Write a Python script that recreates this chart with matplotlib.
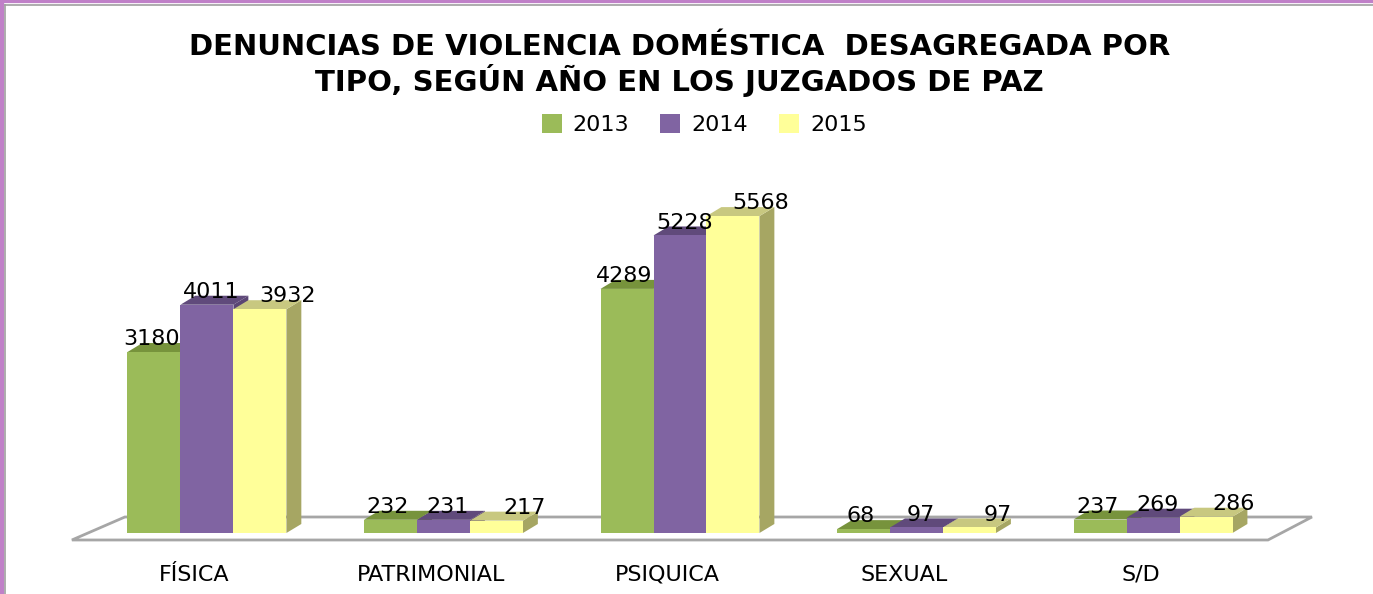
import matplotlib
matplotlib.use("Agg")
import matplotlib.pyplot as plt
from matplotlib.patches import Polygon, Patch
from matplotlib.lines import Line2D

# ── Data ──────────────────────────────────────────────────────────────────────

CATEGORIES = ["FÍSICA", "PATRIMONIAL", "PSIQUICA", "SEXUAL", "S/D"]
YEARS = ["2013", "2014", "2015"]
V2013 = [3180, 232, 4289, 68, 237]
V2014 = [4011, 231, 5228, 97, 269]
V2015 = [3932, 217, 5568, 97, 286]

TITLE = "DENUNCIAS DE VIOLENCIA DOMÉSTICA  DESAGREGADA POR\nTIPO, SEGÚN AÑO EN LOS JUZGADOS DE PAZ"

# ── Style ─────────────────────────────────────────────────────────────────────

FRONT = ["#9BBB59", "#8064A2", "#FFFF99"]
TOP   = ["#77933C", "#604A7B", "#C8C880"]
SIDE  = ["#6E8A36", "#5A4574", "#A6A663"]
LABEL_DX = [-2, 3, 20]          # label shift per series, points

W, H, DPI = 13.73, 5.94, 100
BAR_W = 0.224
DX, DY = 0.063, 158             # pseudo-3D depth in data units

fig = plt.figure(figsize=(W, H), dpi=DPI)
ax = fig.add_axes([0, 0, 1, 1])
ax.set_xlim(-0.875, 4.93)
ax.set_ylim(-1072, 9365)
ax.axis("off")

# floor
floor = Polygon([(-0.571, -123), (-0.347, 281), (4.672, 281), (4.486, -123)],
                closed=True, facecolor="white", edgecolor="#A6A6A6", lw=2, zorder=1)
ax.add_patch(floor)

series = [V2013, V2014, V2015]
for ci in range(len(CATEGORIES)):
    for si, vals in enumerate(series):
        x0 = ci + (si - 1) * BAR_W - BAR_W / 2
        x1 = x0 + BAR_W
        v = vals[ci]
        z = 2 + ci * 3 + si
        side = Polygon([(x1, 0), (x1 + DX, DY), (x1 + DX, v + DY), (x1, v)],
                       closed=True, facecolor=SIDE[si], edgecolor="none", zorder=z)
        top = Polygon([(x0, v), (x0 + DX, v + DY), (x1 + DX, v + DY), (x1, v)],
                      closed=True, facecolor=TOP[si], edgecolor="none", zorder=z)
        ax.add_patch(side)
        ax.add_patch(top)
        ax.bar(x0, v, width=BAR_W, align="edge", color=FRONT[si], zorder=z)

for ci in range(len(CATEGORIES)):
    for si, vals in enumerate(series):
        xc = ci + (si - 1) * BAR_W
        ax.annotate(str(vals[ci]), xy=(xc, vals[ci]), xytext=(LABEL_DX[si], 5),
                    textcoords="offset points", ha="center", va="baseline",
                    fontsize=16, color="black", zorder=50)

for ci, cat in enumerate(CATEGORIES):
    ax.annotate(cat, xy=(ci, 0), xytext=(-9, -30), textcoords="offset points",
                ha="center", va="center", fontsize=16, color="black")

fig.text(0.495, 0.891, TITLE, ha="center", va="center", fontsize=21,
         fontweight="bold", linespacing=1.1)

handles = [Patch(facecolor=c, edgecolor="none") for c in FRONT]
fig.legend(handles, YEARS, loc="center", bbox_to_anchor=(0.513, 0.79), ncol=3,
           frameon=False, fontsize=16, handlelength=0.9, handleheight=0.9,
           columnspacing=1.4, handletextpad=0.5)

# chart frame (only top and left edges are visible)
fig.lines.append(Line2D([0, 1], [1, 1], transform=fig.transFigure,
                        color="#C080C8", lw=4.5))
fig.lines.append(Line2D([0, 0], [0, 1], transform=fig.transFigure,
                        color="#C080C8", lw=6))
fig.lines.append(Line2D([4.5 / 1373, 1], [1 - 4.5 / 594, 1 - 4.5 / 594],
                        transform=fig.transFigure, color="#A0A0A0", lw=1.2))
fig.lines.append(Line2D([5 / 1373, 5 / 1373], [0, 1 - 4.5 / 594],
                        transform=fig.transFigure, color="#A0A0A0", lw=1.2))

fig.savefig("out.png", dpi=DPI)
